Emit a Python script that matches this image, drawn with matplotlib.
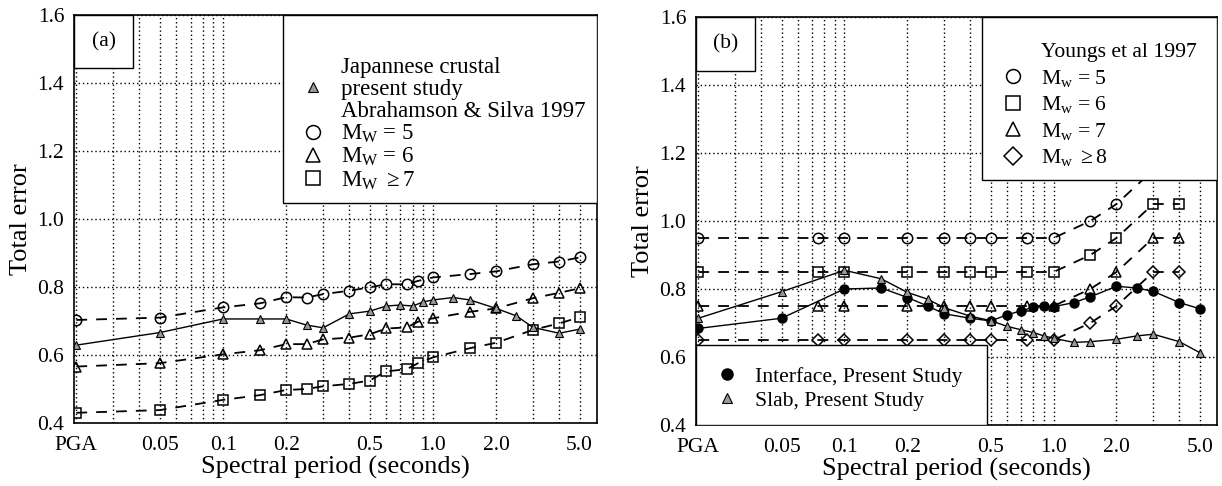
import matplotlib
matplotlib.use("Agg")
import matplotlib.pyplot as plt
from matplotlib.lines import Line2D
from matplotlib.patches import Rectangle

plt.rcParams['font.family'] = ['Liberation Serif', 'DejaVu Serif']
plt.rcParams['mathtext.fontset'] = 'custom'
plt.rcParams['mathtext.rm'] = 'Liberation Serif'
plt.rcParams['mathtext.it'] = 'Liberation Serif:italic'

PGA = 0.02  # position used for PGA on the log axis

# ---- panel (a) data: Japanese crustal ----
study_T = [PGA, 0.05, 0.1, 0.15, 0.2, 0.25, 0.3, 0.4, 0.5, 0.6, 0.7, 0.8, 0.9, 1.0,
           1.25, 1.5, 2.0, 2.5, 3.0, 4.0, 5.0]
crustal_err = [0.629, 0.666, 0.706, 0.706, 0.706, 0.688, 0.680, 0.721, 0.729, 0.744, 0.747,
               0.744, 0.756, 0.762, 0.769, 0.762, 0.737, 0.715, 0.681, 0.664, 0.676]

as_T = [PGA, 0.05, 0.1, 0.15, 0.2, 0.25, 0.3, 0.4, 0.5, 0.6, 0.75, 0.85, 1.0, 1.5, 2.0, 3.0, 4.0, 5.0]
as_m5 = [0.703, 0.710, 0.740, 0.752, 0.770, 0.769, 0.779, 0.789, 0.799, 0.808, 0.808, 0.818,
         0.828, 0.838, 0.846, 0.867, 0.875, 0.887]
as_m6 = [0.566, 0.576, 0.602, 0.614, 0.632, 0.632, 0.646, 0.651, 0.661, 0.678, 0.681, 0.698,
         0.708, 0.727, 0.737, 0.767, 0.783, 0.796]
as_m7 = [0.430, 0.438, 0.468, 0.482, 0.497, 0.500, 0.508, 0.515, 0.525, 0.552, 0.558, 0.576,
         0.593, 0.620, 0.636, 0.674, 0.693, 0.711]

# ---- panel (b) data: subduction ----
interface_err = [0.684, 0.714, 0.800, 0.803, 0.775, 0.750, 0.727, 0.714, 0.706, 0.724, 0.736,
                 0.746, 0.749, 0.748, 0.760, 0.777, 0.808, 0.803, 0.793, 0.760, 0.742]
slab_err = [0.714, 0.792, 0.855, 0.830, 0.790, 0.770, 0.745, 0.720, 0.707, 0.690, 0.680,
            0.672, 0.662, 0.655, 0.643, 0.645, 0.652, 0.662, 0.667, 0.645, 0.613]

youngs_T = [PGA, 0.075, 0.1, 0.2, 0.3, 0.4, 0.5, 0.75, 1.0, 1.5, 2.0, 3.0, 4.0]
youngs_m5 = [0.95, 0.95, 0.95, 0.95, 0.95, 0.95, 0.95, 0.95, 0.95, 1.00, 1.05, 1.15, 1.15]
youngs_m6 = [0.85, 0.85, 0.85, 0.85, 0.85, 0.85, 0.85, 0.85, 0.85, 0.90, 0.95, 1.05, 1.05]
youngs_m7 = [0.75, 0.75, 0.75, 0.75, 0.75, 0.75, 0.75, 0.75, 0.75, 0.80, 0.85, 0.95, 0.95]
youngs_m8 = [0.65, 0.65, 0.65, 0.65, 0.65, 0.65, 0.65, 0.65, 0.65, 0.70, 0.75, 0.85, 0.85]

xtick_pos = [PGA, 0.05, 0.1, 0.2, 0.5, 1.0, 2.0, 5.0]
xtick_lab = ['PGA', '0.05', '0.1', '0.2', '0.5', '1.0', '2.0', '5.0']
xminor_pos = [0.03, 0.04, 0.06, 0.07, 0.08, 0.09, 0.3, 0.4, 0.6, 0.7, 0.8, 0.9, 3.0, 4.0]
ytick_pos = [0.4, 0.6, 0.8, 1.0, 1.2, 1.4, 1.6]

FS_TICK = 15.5
FS_LAB = 19
FS_LEG = 16.5
FS_LEG_B = 15.6

dash = dict(color='k', linestyle=(0, (6, 5)), linewidth=1.3, markersize=7.5,
            markerfacecolor='none', markeredgecolor='k', markeredgewidth=1.1)
study_tri = dict(color='k', linestyle='-', linewidth=1.0, marker='^', markersize=6,
                 markerfacecolor='0.6', markeredgecolor='k', markeredgewidth=0.8)


def style_axes(ax):
    ax.set_xscale('log')
    ax.set_xlim(0.0195, 6.05)
    ax.set_ylim(0.4, 1.6)
    ax.set_xticks(xtick_pos)
    ax.set_xticklabels(xtick_lab)
    ax.set_xticks(xminor_pos, minor=True)
    ax.set_xticklabels([], minor=True)
    ax.set_yticks(ytick_pos)
    ax.set_yticklabels([f'{v:.1f}' for v in ytick_pos])
    ax.tick_params(which='both', length=0, labelsize=FS_TICK)
    ax.tick_params(axis='x', pad=9)
    ax.tick_params(axis='y', pad=7)
    ax.grid(True, which='both', color='k', linestyle=(0, (1, 2)), linewidth=1.0)
    ax.set_axisbelow(True)
    for s in ax.spines.values():
        s.set_linewidth(1.2)
    ax.set_xlabel('Spectral period (seconds)', fontsize=FS_LAB, labelpad=1)
    ax.set_ylabel('Total error', fontsize=FS_LAB, labelpad=4)


def label_box(ax, txt, w, h):
    ax.add_patch(Rectangle((0, 1 - h), w, h, transform=ax.transAxes, facecolor='white',
                           edgecolor='k', linewidth=1.0, zorder=5))
    ax.text(w / 2, 1 - h / 2, txt, transform=ax.transAxes, ha='center', va='center',
            fontsize=FS_TICK, zorder=6)


def legend_box(ax, x0, y0, x1, y1):
    ax.add_patch(Rectangle((x0, y0), x1 - x0, y1 - y0, transform=ax.transAxes,
                           facecolor='white', edgecolor='k', linewidth=1.0, zorder=5))


fig = plt.figure(figsize=(12.22, 4.86), dpi=100)
ax1 = fig.add_axes([74 / 1222, 1 - 423 / 486, 523 / 1222, 408 / 486])
ax2 = fig.add_axes([696 / 1222, 1 - 425 / 486, 521 / 1222, 408 / 486])

# ---------------- panel (a) ----------------
style_axes(ax1)
ax1.plot(as_T, as_m5, marker='o', **dash)
ax1.plot(as_T, as_m6, marker='^', **dash)
ax1.plot(as_T, as_m7, marker='s', **dash)
ax1.plot(study_T, crustal_err, **study_tri)
label_box(ax1, '(a)', 0.113, 0.130)
legend_box(ax1, 0.400, 0.539, 1.0, 1.0)

blank = Line2D([], [], linestyle='none')
mk = dict(linestyle='none', color='k', markerfacecolor='none', markersize=10, markeredgewidth=1.1)
h_a = [blank,
       Line2D([], [], linestyle='none', marker='^', markersize=7, markerfacecolor='0.6',
              markeredgecolor='k', markeredgewidth=0.8),
       blank,
       Line2D([], [], marker='o', **mk),
       Line2D([], [], marker='^', **mk),
       Line2D([], [], marker='s', **mk)]
l_a = ['Japannese crustal', 'present study', 'Abrahamson & Silva 1997',
       r'M$_\mathrm{W}$ = 5', r'M$_\mathrm{W}$ = 6', r'M$_\mathrm{W}$ $\geq$7']
leg = ax1.legend(h_a, l_a, loc='upper left', bbox_to_anchor=(0.436, 0.897), frameon=False,
                 fontsize=FS_LEG, handlelength=1.0, handletextpad=0.7, labelspacing=0.04,
                 borderpad=0, borderaxespad=0)
leg.set_zorder(7)

# ---------------- panel (b) ----------------
style_axes(ax2)
ax2.plot(youngs_T, youngs_m5, marker='o', **dash)
ax2.plot(youngs_T, youngs_m6, marker='s', **dash)
ax2.plot(youngs_T, youngs_m7, marker='^', **dash)
ax2.plot(youngs_T, youngs_m8, marker='D', **{**dash, 'markersize': 6.5})
ax2.plot(study_T, interface_err, color='k', linestyle='-', linewidth=1.0, marker='o',
         markersize=6.5, markerfacecolor='k', markeredgecolor='k')
ax2.plot(study_T, slab_err, **study_tri)
label_box(ax2, '(b)', 0.113, 0.132)
legend_box(ax2, 0.549, 0.600, 1.0, 1.0)
legend_box(ax2, 0.0, 0.0, 0.559, 0.196)

h_b = [blank,
       Line2D([], [], marker='o', **mk),
       Line2D([], [], marker='s', **mk),
       Line2D([], [], marker='^', **mk),
       Line2D([], [], marker='D', **{**mk, 'markersize': 9})]
l_b = ['Youngs et al 1997', r'M$_\mathrm{w}$ = 5', r'M$_\mathrm{w}$ = 6',
       r'M$_\mathrm{w}$ = 7', r'M$_\mathrm{w}$ $\geq$8']
leg_b1 = ax2.legend(h_b, l_b, loc='upper left', bbox_to_anchor=(0.587, 0.938), frameon=False,
                    fontsize=FS_LEG_B, handlelength=1.0, handletextpad=0.8, labelspacing=0.25,
                    borderpad=0, borderaxespad=0)
leg_b1.set_zorder(7)
ax2.add_artist(leg_b1)

h_c = [Line2D([], [], linestyle='none', marker='o', markersize=8, color='k'),
       Line2D([], [], linestyle='none', marker='^', markersize=7, markerfacecolor='0.6',
              markeredgecolor='k', markeredgewidth=0.8)]
l_c = ['Interface, Present Study', 'Slab, Present Study']
leg_b2 = ax2.legend(h_c, l_c, loc='upper left', bbox_to_anchor=(0.038, 0.143), frameon=False,
                    fontsize=FS_LEG_B, handlelength=1.0, handletextpad=0.8, labelspacing=0.18,
                    borderpad=0, borderaxespad=0)
leg_b2.set_zorder(7)

fig.savefig('out.png', dpi=100, facecolor='white')
